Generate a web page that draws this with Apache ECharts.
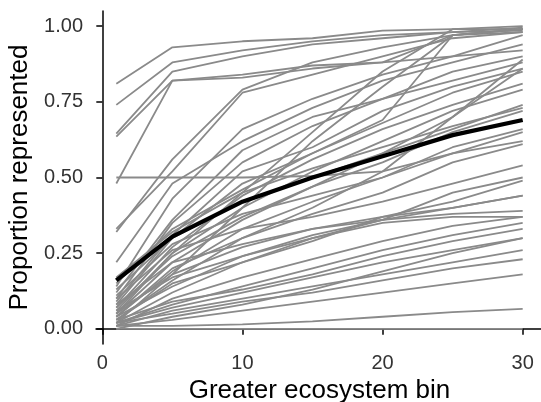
<!DOCTYPE html>
<html style="height: 100%">
<head>
<meta charset="utf-8">
<script src="https://cdn.jsdelivr.net/npm/echarts@6/dist/echarts.min.js"></script>
</head>
<body style="height: 100%; margin: 0; background: #fff">
<div id="container" style="width: 541px; height: 402px"></div>
<script type="text/javascript">
// bins along the x axis
var bins = [1, 5, 10, 15, 20, 25, 30];

// one row per ecosystem (proportion represented at each bin)
var ecoLines = [
  [0.81, 0.93, 0.95, 0.96, 0.985, 0.99, 0.99],
  [0.74, 0.88, 0.92, 0.95, 0.97, 0.98, 0.995],
  [0.645, 0.85, 0.90, 0.94, 0.96, 0.98, 0.985],
  [0.635, 0.82, 0.84, 0.87, 0.88, 0.97, 0.98],
  [0.48, 0.82, 0.83, 0.86, 0.88, 0.90, 0.92],
  [0.50, 0.50, 0.50, 0.505, 0.52, 0.58, 0.62],
  [0.32, 0.56, 0.79, 0.88, 0.93, 0.97, 0.99],
  [0.33, 0.52, 0.78, 0.84, 0.90, 0.96, 0.98],
  [0.22, 0.48, 0.62, 0.73, 0.82, 0.88, 0.94],
  [0.14, 0.43, 0.66, 0.76, 0.84, 0.90, 0.97],
  [0.12, 0.36, 0.59, 0.70, 0.76, 0.85, 0.90],
  [0.08, 0.30, 0.48, 0.58, 0.69, 0.97, 0.99],
  [0.10, 0.35, 0.55, 0.67, 0.76, 0.82, 0.88],
  [0.09, 0.31, 0.52, 0.60, 0.72, 0.80, 0.86],
  [0.15, 0.33, 0.46, 0.58, 0.68, 0.78, 0.85],
  [0.07, 0.27, 0.44, 0.56, 0.66, 0.74, 0.81],
  [0.06, 0.25, 0.40, 0.52, 0.62, 0.72, 0.79],
  [0.13, 0.30, 0.42, 0.50, 0.58, 0.66, 0.74],
  [0.05, 0.22, 0.36, 0.47, 0.55, 0.65, 0.72],
  [0.11, 0.28, 0.38, 0.44, 0.50, 0.58, 0.65],
  [0.04, 0.20, 0.30, 0.38, 0.45, 0.55, 0.61],
  [0.10, 0.26, 0.33, 0.37, 0.42, 0.48, 0.54],
  [0.05, 0.18, 0.27, 0.33, 0.37, 0.42, 0.49],
  [0.08, 0.22, 0.28, 0.33, 0.36, 0.40, 0.44],
  [0.03, 0.15, 0.22, 0.30, 0.36, 0.38, 0.39],
  [0.06, 0.17, 0.24, 0.30, 0.35, 0.37, 0.37],
  [0.17, 0.32, 0.45, 0.53, 0.60, 0.67, 0.73],
  [0.04, 0.19, 0.33, 0.42, 0.50, 0.60, 0.66],
  [0.02, 0.12, 0.22, 0.29, 0.37, 0.40, 0.44],
  [0.02, 0.08, 0.14, 0.20, 0.26, 0.31, 0.35],
  [0.03, 0.09, 0.13, 0.18, 0.24, 0.29, 0.33],
  [0.02, 0.07, 0.12, 0.17, 0.22, 0.26, 0.30],
  [0.01, 0.06, 0.10, 0.14, 0.18, 0.22, 0.26],
  [0.02, 0.05, 0.09, 0.12, 0.16, 0.20, 0.23],
  [0.01, 0.03, 0.06, 0.09, 0.12, 0.15, 0.18],
  [0.01, 0.01, 0.015, 0.025, 0.04, 0.055, 0.066],
  [0.00, 0.00, 0.00, 0.00, 0.00, 0.00, 0.00],
  [0.04, 0.14, 0.24, 0.31, 0.36, 0.45, 0.50],
  [0.07, 0.24, 0.37, 0.47, 0.58, 0.70, 0.89],
  [0.03, 0.16, 0.30, 0.40, 0.52, 0.70, 0.86],
  [0.05, 0.25, 0.45, 0.65, 0.85, 0.99, 1.00],
  [0.02, 0.18, 0.40, 0.62, 0.80, 0.97, 0.99],
  [0.01, 0.10, 0.17, 0.23, 0.29, 0.34, 0.37],
  [0.00, 0.04, 0.08, 0.13, 0.19, 0.25, 0.30]
];

// mean across ecosystems
var meanLine = [0.16, 0.305, 0.42, 0.50, 0.57, 0.64, 0.69];

var xTicks = [0, 10, 20, 30];
var yTicks = [0, 0.25, 0.5, 0.75, 1];

function toPoints(vals) {
  return vals.map(function (v, i) { return [bins[i], v]; });
}

var series = ecoLines.map(function (row) {
  return {
    type: 'line',
    data: toPoints(row),
    showSymbol: false,
    silent: true,
    lineStyle: { color: '#8a8a8a', width: 1.8 },
    z: 2
  };
});
series.push({
  type: 'line',
  data: toPoints(meanLine),
  showSymbol: false,
  silent: true,
  lineStyle: { color: '#000', width: 4.2 },
  z: 3
});

var myChart = echarts.init(document.getElementById('container'));
var option = {
  animation: false,
  grid: { left: 96, top: 11, width: 447, height: 333, outerBoundsMode: 'none', containLabel: false },
  xAxis: {
    type: 'value',
    min: -0.45,
    max: 31.45,
    name: 'Greater ecosystem bin',
    nameLocation: 'middle',
    nameGap: 32,
    nameTextStyle: { fontFamily: 'Liberation Sans', fontSize: 26, color: '#000' },
    axisLine: { show: true, lineStyle: { color: '#000', width: 1.5 } },
    axisTick: { show: true, length: 6, customValues: xTicks, lineStyle: { color: '#000', width: 1.5 } },
    axisLabel: { customValues: xTicks, margin: 9, fontFamily: 'Liberation Sans', fontSize: 20, color: '#333' },
    splitLine: { show: false }
  },
  yAxis: {
    type: 'value',
    min: -0.05,
    max: 1.05,
    name: 'Proportion represented',
    nameLocation: 'middle',
    nameGap: 46,
    nameTextStyle: { fontFamily: 'Liberation Sans', fontSize: 26, color: '#000' },
    axisLine: { show: true, lineStyle: { color: '#000', width: 1.5 } },
    axisTick: { show: true, length: 6, customValues: yTicks, lineStyle: { color: '#000', width: 1.5 } },
    axisLabel: {
      customValues: yTicks, margin: 13, fontFamily: 'Liberation Sans', fontSize: 20, color: '#333',
      formatter: function (v) { return v.toFixed(2); }
    },
    splitLine: { show: false }
  },
  series: series
};
myChart.setOption(option);
</script>
</body>
</html>
